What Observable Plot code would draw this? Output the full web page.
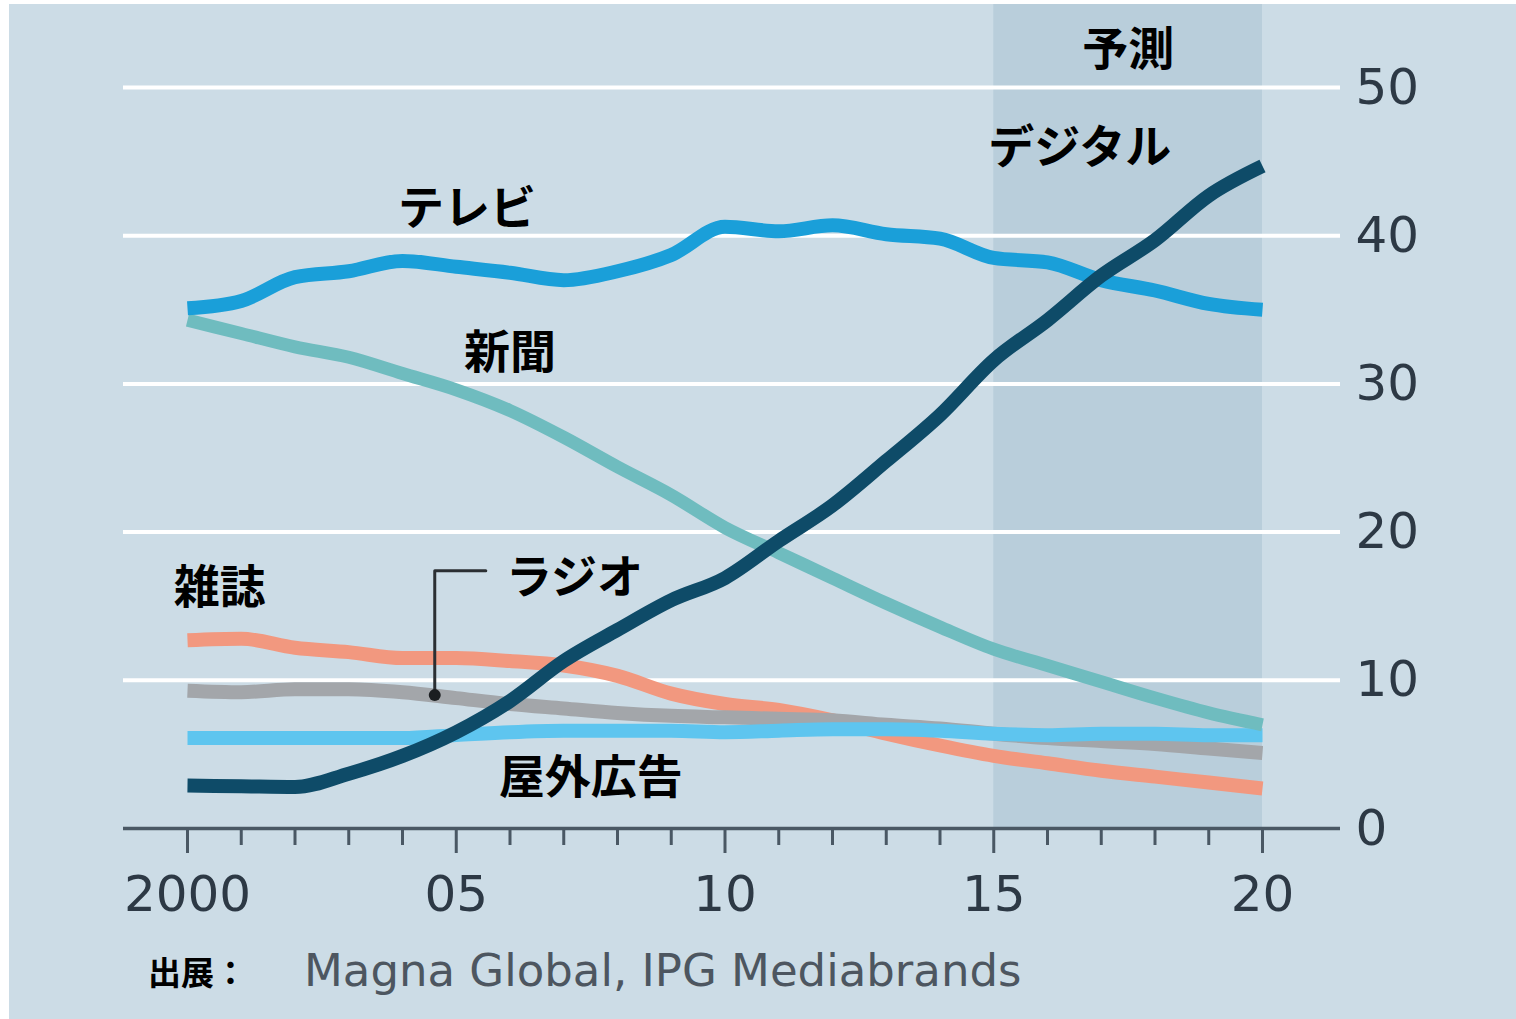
<!DOCTYPE html>
<html><head><meta charset="utf-8">
<script src="https://cdn.jsdelivr.net/npm/d3@7"></script>
<script src="https://cdn.jsdelivr.net/npm/@observablehq/plot@0.6"></script>
<style>
html,body{margin:0;padding:0;background:#ffffff;}
#wrap{position:relative;width:1516px;height:1019px;overflow:hidden;background:#ffffff;}
#panel{position:absolute;left:9px;top:4px;right:0;bottom:0;background:#ccdce6;}
#chart{position:absolute;left:0;top:0;}
#source{position:absolute;left:148px;top:944px;white-space:nowrap;}
#source .k{font-family:"Noto Sans CJK JP",sans-serif;font-weight:700;font-size:33px;color:#000;vertical-align:middle;}
#source .s{font-family:"DejaVu Sans",sans-serif;font-size:45px;color:#4d5660;margin-left:57px;vertical-align:middle;}
</style></head>
<body><div id="wrap"><div id="panel"></div><div id="chart"></div>
<div id="source"><span class="k">出展：</span><span class="s">Magna Global, IPG Mediabrands</span></div></div>
<script>
const years = d3.range(2000, 2021);
const tv        = [35.1,35.6,37.2,37.6,38.3,37.9,37.5,37.0,37.6,38.7,40.6,40.3,40.7,40.1,39.8,38.5,38.2,37.0,36.3,35.4,35.0];
const digital   = [2.9,2.85,2.8,3.7,4.9,6.5,8.6,11.3,13.4,15.4,16.9,19.4,21.8,24.8,27.9,31.6,34.3,37.3,39.7,42.7,44.7];
const newspaper = [34.3,33.4,32.5,31.8,30.7,29.6,28.2,26.4,24.4,22.5,20.3,18.6,16.9,15.2,13.6,12.1,11.0,9.9,8.8,7.8,7.0];
const magazine  = [12.7,12.8,12.2,11.9,11.5,11.5,11.3,11.0,10.3,9.1,8.4,8.0,7.3,6.4,5.6,4.9,4.4,3.9,3.5,3.1,2.7];
const radio     = [9.3,9.2,9.4,9.4,9.2,8.8,8.4,8.1,7.8,7.6,7.5,7.4,7.3,7.0,6.75,6.4,6.1,5.9,5.7,5.4,5.1];
const outdoor   = [6.1,6.1,6.1,6.1,6.1,6.3,6.5,6.6,6.6,6.6,6.5,6.6,6.7,6.7,6.6,6.4,6.3,6.4,6.4,6.3,6.3];
const forecast = [{start: 2015, end: 2020}];
const yTicks = [0,10,20,30,40,50];
const xMajor = [2000,2005,2010,2015,2020];
const xTickLabels = ["2000","05","10","15","20"];
const labels = [
  {year: 2017.5, value: 52.5, text: "予測"},
  {year: 2016.6, value: 45.9, text: "デジタル"},
  {year: 2005.2, value: 41.8, text: "テレビ"},
  {year: 2006.0, value: 32.1, text: "新聞"},
  {year: 2000.6, value: 16.2, text: "雑誌"},
  {year: 2007.2, value: 16.9, text: "ラジオ"},
  {year: 2007.5, value: 3.4, text: "屋外広告"}
];
const radioCallout = [{year: 2004.6, value: 9.0},{year: 2004.6, value: 17.4},{year: 2005.55, value: 17.4}];

const series = [
  {name: "雑誌", values: magazine, color: "#f2987f", w: 14},
  {name: "ラジオ", values: radio, color: "#a3a6aa", w: 14},
  {name: "屋外広告", values: outdoor, color: "#5ec5ef", w: 14},
  {name: "新聞", values: newspaper, color: "#6fbcbf", w: 13},
  {name: "テレビ", values: tv, color: "#1a9fd9", w: 14},
  {name: "デジタル", values: digital, color: "#0e4b68", w: 14}
];
const rows = series.flatMap(s => s.values.map((v, i) => ({series: s.name, year: years[i], value: v})));

const font = `"DejaVu Sans",sans-serif`;
const jp = `"Noto Sans CJK JP",sans-serif`;

const chart = Plot.plot({
  width: 1516,
  height: 935,
  marginLeft: 187,
  marginRight: 254,
  marginTop: 87,
  marginBottom: 107,
  style: {background: "transparent", overflow: "visible"},
  x: {type: "linear", domain: [2000, 2020]},
  y: {type: "linear", domain: [0, 50]},
  marks: [
    Plot.rect(forecast, {x1: "start", x2: "end", fill: "#b9cedb", insetTop: -83}),
    Plot.ruleY(yTicks.filter(d => d > 0), {stroke: "#ffffff", strokeWidth: 4, insetLeft: -64, insetRight: -78}),
    ...series.map(s => Plot.line(rows.filter(r => r.series === s.name), {
      x: "year", y: "value", stroke: s.color, strokeWidth: s.w,
      strokeLinejoin: "round", strokeLinecap: "butt", curve: "monotone-x"
    })),
    Plot.line(radioCallout, {x: "year", y: "value", stroke: "#2b2f33", strokeWidth: 3}),
    Plot.dot(radioCallout.slice(0,1), {x: "year", y: "value", r: 6, fill: "#1b1e21"}),
    Plot.axisX({ticks: years.filter(y => !xMajor.includes(y)), tickSize: 17, tickFormat: () => "",
      stroke: "#4a5864", strokeWidth: 3, label: null}),
    Plot.axisX({ticks: xMajor, tickSize: 25, tickPadding: 22, tickFormat: (d, i) => xTickLabels[i],
      fontSize: 50, fontFamily: font, color: "#2d3945", stroke: "#4a5864", strokeWidth: 3, label: null}),
    Plot.ruleY([0], {stroke: "#4a5864", strokeWidth: 3.5, insetLeft: -64, insetRight: -78}),
    Plot.axisY({anchor: "right", ticks: yTicks, tickSize: 0, tickPadding: 93, textAnchor: "start",
      fontSize: 50, fontFamily: font, color: "#2d3945", label: null}),
    Plot.text(labels, {x: "year", y: "value", text: "text", fontSize: 46, fontWeight: 700,
      fontFamily: jp, fill: "#000000"})
  ]
});
document.getElementById("chart").appendChild(chart);
</script></body></html>
